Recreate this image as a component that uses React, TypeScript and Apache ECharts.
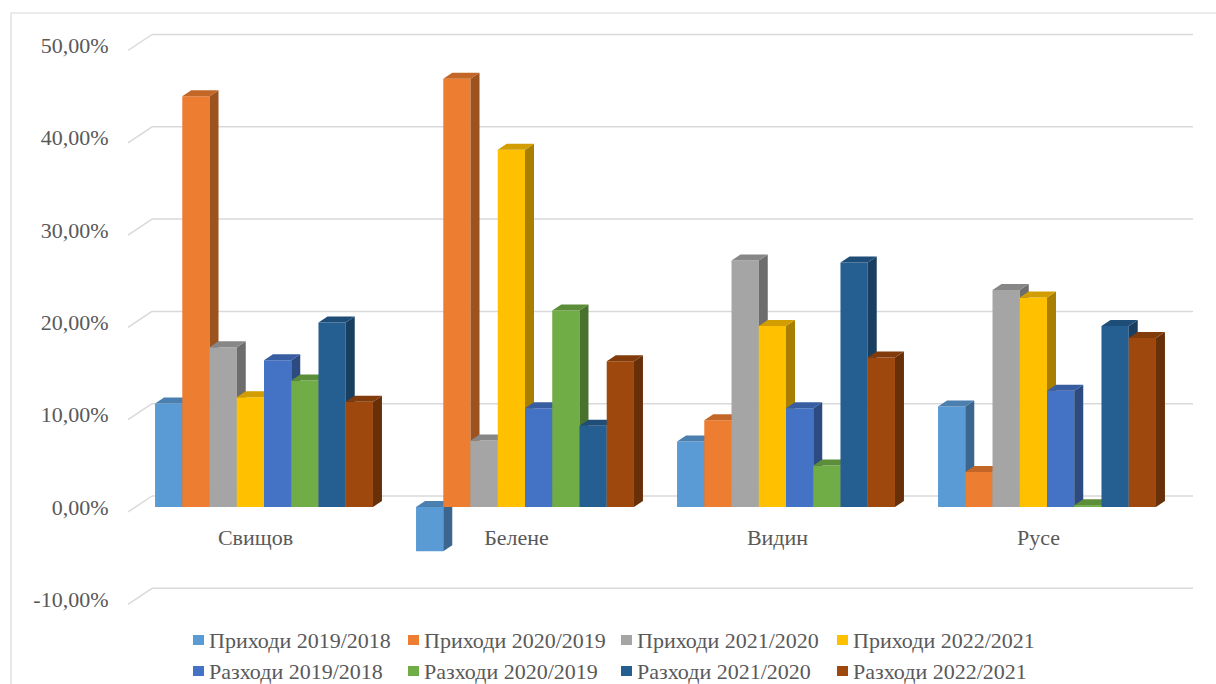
import React, { useEffect, useRef } from 'react';
import * as echarts from 'echarts';

const categories = ['Свищов', 'Белене', 'Видин', 'Русе'];
const seriesNames = [
  'Приходи 2019/2018',
  'Приходи 2020/2019',
  'Приходи 2021/2020',
  'Приходи 2022/2021',
  'Разходи 2019/2018',
  'Разходи 2020/2019',
  'Разходи 2021/2020',
  'Разходи 2022/2021',
];
const prihodi2019 = [11.2, -4.8, 7.1, 10.9];
const prihodi2020 = [44.5, 46.4, 9.4, 3.8];
const prihodi2021 = [17.3, 7.2, 26.7, 23.5];
const prihodi2022 = [11.9, 38.7, 19.6, 22.7];
const razhodi2019 = [15.9, 10.7, 10.7, 12.6];
const razhodi2020 = [13.7, 21.3, 4.5, 0.2];
const razhodi2021 = [20.0, 8.8, 26.5, 19.6];
const razhodi2022 = [11.4, 15.8, 16.2, 18.3];
const seriesValues = [
  prihodi2019, prihodi2020, prihodi2021, prihodi2022,
  razhodi2019, razhodi2020, razhodi2021, razhodi2022,
];
const yTicks = [-10, 0, 10, 20, 30, 40, 50];
const colors = ['#5B9BD5', '#ED7D31', '#A5A5A5', '#FFC000', '#4472C4', '#70AD47', '#255E91', '#9E480E'];

const FONT = "'Liberation Serif', 'Times New Roman', serif";
const TEXT_COLOR = '#595959';
const GRID_COLOR = '#d9d9d9';
const BAR_FRACTION = 0.835;
const DEPTH_X = 9;
const DEPTH_Y = 6;

function shade(hex: string, f: number): string {
  const n = parseInt(hex.slice(1), 16);
  const r = Math.round(((n >> 16) & 255) * f);
  const g = Math.round(((n >> 8) & 255) * f);
  const b = Math.round((n & 255) * f);
  return `rgb(${r},${g},${b})`;
}

const fmt = (v: number) => v.toFixed(2).replace('.', ',') + '%';

export default function App() {
  const ref = useRef<HTMLDivElement>(null);
  useEffect(() => {
    if (!ref.current) return;
    const chart = echarts.init(ref.current, undefined, { renderer: 'svg' });

    const gridSeries: any = {
      type: 'custom',
      name: '__grid',
      z: 1,
      silent: true,
      data: yTicks.map((v) => [0, v]),
      encode: { x: 0, y: 1 },
      renderItem: (params: any, api: any) => {
        const y = api.coord([0, api.value(1)])[1];
        const cs = params.coordSys;
        return {
          type: 'group',
          children: [
            {
              type: 'line',
              shape: { x1: cs.x - 5.5, y1: y + 5, x2: cs.x + 18.5, y2: y - 11 },
              style: { stroke: GRID_COLOR, lineWidth: 1.5 },
            },
            {
              type: 'line',
              shape: { x1: cs.x + 18.5, y1: y - 11, x2: cs.x + cs.width + 15.5, y2: y - 11 },
              style: { stroke: GRID_COLOR, lineWidth: 1.5 },
            },
          ],
        };
      },
    };

    const barSeries = seriesNames.map((name, j) => {
      const color = colors[j];
      const side = shade(color, 0.66);
      const top = shade(color, 0.82);
      return {
        type: 'custom',
        name,
        z: 2,
        itemStyle: { color },
        data: seriesValues[j].map((v, i) => [i, v]),
        encode: { x: 0, y: 1 },
        renderItem: (params: any, api: any) => {
          const cat = api.value(0);
          const v = api.value(1);
          const c0 = api.coord([cat, 0]);
          const c1 = api.coord([cat, v]);
          const band = api.size([1, 0])[0];
          const bw = (band * BAR_FRACTION) / 8;
          const x = c0[0] - bw * 4 + j * bw;
          const yTop = Math.min(c0[1], c1[1]);
          const yBot = Math.max(c0[1], c1[1]);
          return {
            type: 'group',
            children: [
              {
                type: 'rect',
                shape: { x, y: yTop, width: bw, height: yBot - yTop },
                style: { fill: color },
              },
              {
                type: 'polygon',
                shape: {
                  points: [
                    [x + bw, yTop],
                    [x + bw + DEPTH_X, yTop - DEPTH_Y],
                    [x + bw + DEPTH_X, yBot - DEPTH_Y],
                    [x + bw, yBot],
                  ],
                },
                style: { fill: side },
              },
              {
                type: 'polygon',
                shape: {
                  points: [
                    [x, yTop],
                    [x + DEPTH_X, yTop - DEPTH_Y],
                    [x + bw + DEPTH_X, yTop - DEPTH_Y],
                    [x + bw, yTop],
                  ],
                },
                style: { fill: top },
              },
            ],
          };
        },
      };
    });

    const legendCols = [193, 408, 621, 837];
    const legends = legendCols.map((left, k) => ({
      orient: 'vertical',
      left,
      top: 629,
      padding: 0,
      itemGap: 9,
      itemWidth: 11,
      itemHeight: 10,
      icon: 'rect',
      selectedMode: false,
      data: [seriesNames[k], seriesNames[k + 4]],
      textStyle: { fontFamily: FONT, fontSize: 22, lineHeight: 22, color: TEXT_COLOR },
    }));

    chart.setOption({
      animation: false,
      backgroundColor: '#ffffff',
      graphic: [
        {
          type: 'rect',
          shape: { x: 11, y: 13, width: 1300, height: 800 },
          style: { fill: 'none', stroke: GRID_COLOR, lineWidth: 1.2 },
          silent: true,
          z: 0,
        },
      ],
      legend: legends,
      grid: { left: 133.5, width: 1044, top: 45.5, height: 553.8 },
      xAxis: {
        type: 'category',
        data: categories,
        position: 'bottom',
        offset: -92.3,
        axisLine: { show: false, onZero: false },
        axisTick: { show: false },
        splitLine: { show: false },
        axisLabel: {
          margin: 19,
          fontFamily: FONT,
          fontSize: 22,
          color: TEXT_COLOR,
          padding: [0, 17, 0, 0],
        },
      },
      yAxis: {
        type: 'value',
        min: -10,
        max: 50,
        interval: 10,
        axisLine: { show: false },
        axisTick: { show: false },
        splitLine: { show: false },
        axisLabel: {
          margin: 25,
          fontFamily: FONT,
          fontSize: 22,
          color: TEXT_COLOR,
          padding: [10, 0, 0, 0],
          formatter: (v: number) => fmt(v),
        },
      },
      series: [gridSeries, ...barSeries],
    });

    return () => chart.dispose();
  }, []);

  return (
    <div
      ref={ref}
      style={{ position: 'fixed', left: 0, top: 0, width: 1216, height: 684, background: '#fff' }}
    />
  );
}
